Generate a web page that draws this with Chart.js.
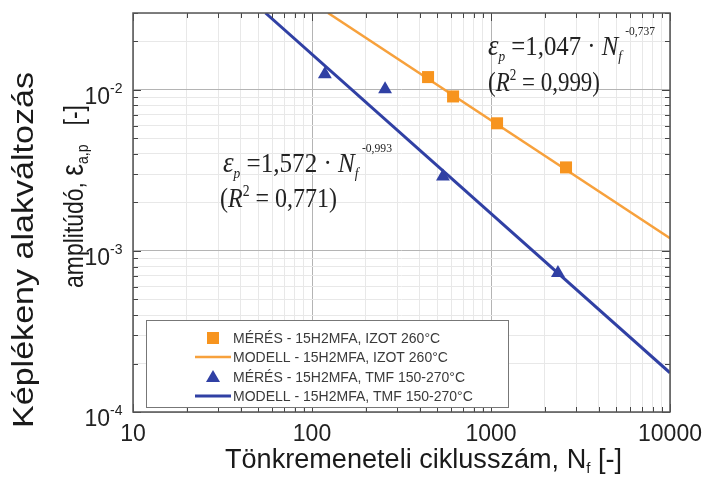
<!DOCTYPE html>
<html><head><meta charset="utf-8">
<script src="https://cdn.jsdelivr.net/npm/chart.js@4/dist/chart.umd.min.js"></script>
<style>html,body{margin:0;padding:0;background:#fff}</style>
</head><body>
<canvas id="c" width="704" height="482" style="display:block;width:704px;height:482px"></canvas>
<script>
// ---- data ----
const izotN = [445, 614, 1081, 2625];
const izotEps = [0.0120, 0.0091, 0.0062, 0.0033];
const tmfN = [118, 256, 539, 2366];
const tmfEps = [0.0125, 0.0101, 0.0029, 0.00073];
const izotModelN = [123, 10000];
const izotModelEps = [0.030, 0.0012];
const tmfModelN = [55, 10000];
const tmfModelEps = [0.030, 0.000175];
const xMajorTicks = [10, 100, 1000, 10000];
const yMajorTicks = [1e-4, 1e-3, 1e-2];
const xTickLabels = ['10', '100', '1000', '10000'];
const yTickExponents = ['-4', '-3', '-2'];
const legendLabels = ['MÉRÉS - 15H2MFA, IZOT 260°C', 'MODELL - 15H2MFA, IZOT 260°C',
  'MÉRÉS - 15H2MFA, TMF 150-270°C', 'MODELL - 15H2MFA, TMF 150-270°C'];

const ORANGE = '#f7941e', ORANGE_L = '#f7a13c', BLUE = '#3040a4';

function decadeTicks(majors, maxV) {
  const out = [];
  majors.forEach(m => { for (let k = 1; k <= 9; k++) { const v = +(m * k).toPrecision(6); if (v <= maxV * 1.0001) out.push({ value: v, major: k === 1 }); } });
  return out;
}
const xTicks = decadeTicks([10, 100, 1000], 10000).concat([{ value: 10000, major: true }]);
const yTicks = decadeTicks([1e-4, 1e-3, 1e-2], 0.03);

function pts(xs, ys) { return xs.map((x, i) => ({ x: x, y: ys[i] })); }

function richText(ctx, segs, x, y, targetW, rotate) {
  let total = 0;
  segs.forEach(s => { ctx.font = s.font; s.w = ctx.measureText(s.t).width; total += s.w; });
  const sc = targetW ? targetW / total : 1;
  ctx.save();
  ctx.translate(x, y);
  if (rotate) ctx.rotate(-Math.PI / 2);
  ctx.scale(sc, 1);
  let cx = 0;
  ctx.textAlign = 'left';
  ctx.textBaseline = 'alphabetic';
  segs.forEach(s => { ctx.font = s.font; ctx.fillText(s.t, cx, s.dy || 0); cx += s.w; });
  ctx.restore();
}

const decor = {
  id: 'decor',
  afterDraw(chart) {
    const ctx = chart.ctx, a = chart.chartArea;
    const xs = chart.scales.x, ys = chart.scales.y;
    ctx.save();
    // inner tick marks
    ctx.strokeStyle = '#444'; ctx.lineWidth = 1;
    ctx.beginPath();
    xTicks.forEach(t => {
      const px = Math.round(xs.getPixelForValue(t.value)) + 0.5;
      const L = t.major ? 8 : 5;
      ctx.moveTo(px, a.bottom); ctx.lineTo(px, a.bottom - L);
      ctx.moveTo(px, a.top); ctx.lineTo(px, a.top + L);
    });
    yTicks.forEach(t => {
      const py = Math.round(ys.getPixelForValue(t.value)) + 0.5;
      const L = t.major ? 8 : 5;
      ctx.moveTo(a.left, py); ctx.lineTo(a.left + L, py);
      ctx.moveTo(a.right, py); ctx.lineTo(a.right - L, py);
    });
    ctx.stroke();
    // frame
    ctx.strokeStyle = '#555'; ctx.lineWidth = 1.5;
    ctx.strokeRect(a.left, a.top, a.right - a.left, a.bottom - a.top);

    const SANS = '"Liberation Sans", Arial, sans-serif';
    // tick labels
    ctx.fillStyle = '#222';
    ctx.font = '23px ' + SANS;
    ctx.textAlign = 'center'; ctx.textBaseline = 'alphabetic';
    xMajorTicks.forEach((v, i) => ctx.fillText(xTickLabels[i], xs.getPixelForValue(v), 441));
    yMajorTicks.forEach((v, i) => {
      const py = ys.getPixelForValue(v);
      ctx.font = '23px ' + SANS;
      ctx.textAlign = 'right';
      ctx.fillText('10', 110, py + 14);
      ctx.font = '14px ' + SANS;
      ctx.textAlign = 'left';
      ctx.fillText(yTickExponents[i], 110, py + 3);
    });

    // axis titles
    ctx.fillStyle = '#1a1a1a';
    richText(ctx, [
      { t: 'Tönkremeneteli ciklusszám, N', font: '27px ' + SANS },
      { t: 'f', font: '15px ' + SANS, dy: 5 },
      { t: ' [-]', font: '27px ' + SANS }
    ], 225, 468, 397, false);
    richText(ctx, [{ t: 'Képlékeny alakváltozás', font: '29px ' + SANS }], 33, 428, 356, true);
    richText(ctx, [
      { t: 'amplitúdó, ', font: '28px ' + SANS },
      { t: 'ε', font: '32px ' + SANS },
      { t: 'a,p', font: '17px ' + SANS, dy: 5 },
      { t: '   [-]', font: '28px ' + SANS }
    ], 83, 288, 183, true);

    // equations
    const SERIF = '"Liberation Serif", "Times New Roman", serif';
    ctx.fillStyle = '#222';
    function eq(x, y, w, coef, expo) {
      richText(ctx, [
        { t: 'ε', font: 'italic 30px ' + SERIF },
        { t: 'p', font: 'italic 15px ' + SERIF, dy: 6 },
        { t: ' =' + coef + ' · ', font: '28px ' + SERIF },
        { t: 'N', font: 'italic 28px ' + SERIF },
        { t: 'f', font: 'italic 15px ' + SERIF, dy: 6 },
        { t: ' ', font: '15px ' + SERIF },
        { t: expo, font: '13px ' + SERIF, dy: -20 }
      ], x, y, w, false);
    }
    function r2(x, y, w, val) {
      richText(ctx, [
        { t: '(', font: '28px ' + SERIF },
        { t: 'R', font: 'italic 28px ' + SERIF },
        { t: '2', font: '16px ' + SERIF, dy: -11 },
        { t: ' = ' + val + ')', font: '28px ' + SERIF }
      ], x, y, w, false);
    }
    eq(223, 172, 169, '1,572', '-0,993');
    r2(220, 207, 117, '0,771');
    eq(488, 55, 167, '1,047', '-0,737');
    r2(488, 91, 112, '0,999');

    // legend
    const lx = 146, ly = 320, lw = 362, lh = 87;
    ctx.fillStyle = '#fff';
    ctx.fillRect(lx, ly, lw, lh);
    ctx.strokeStyle = '#777'; ctx.lineWidth = 1;
    ctx.strokeRect(lx + 0.5, ly + 0.5, lw, lh);
    const rows = [338, 357, 377, 396];
    ctx.font = '14px ' + SANS;
    ctx.textAlign = 'left'; ctx.textBaseline = 'middle';
    rows.forEach((ry, i) => {
      if (i === 0) { ctx.fillStyle = ORANGE; ctx.fillRect(207, ry - 6, 12, 12); }
      if (i === 2) { ctx.fillStyle = BLUE; ctx.beginPath(); ctx.moveTo(213, ry - 7); ctx.lineTo(220, ry + 5); ctx.lineTo(206, ry + 5); ctx.closePath(); ctx.fill(); }
      if (i === 1 || i === 3) {
        ctx.strokeStyle = i === 1 ? ORANGE_L : BLUE; ctx.lineWidth = i === 1 ? 2.5 : 3;
        ctx.beginPath(); ctx.moveTo(195, ry); ctx.lineTo(231, ry); ctx.stroke();
      }
      ctx.fillStyle = '#3a3a3a';
      ctx.fillText(legendLabels[i], 233, ry + 1);
    });
    ctx.restore();
  }
};

new Chart(document.getElementById('c'), {
  type: 'scatter',
  data: {
    datasets: [
      { label: legendLabels[1], data: pts(izotModelN, izotModelEps), showLine: true, borderColor: ORANGE_L, borderWidth: 2.5, pointRadius: 0, order: 3 },
      { label: legendLabels[3], data: pts(tmfModelN, tmfModelEps), showLine: true, borderColor: BLUE, borderWidth: 3, pointRadius: 0, order: 3 },
      { label: legendLabels[0], data: pts(izotN, izotEps), pointStyle: 'rect', pointRadius: 8.5, backgroundColor: ORANGE, borderColor: ORANGE, borderWidth: 0, order: 1 },
      { label: legendLabels[2], data: pts(tmfN, tmfEps), pointStyle: 'triangle', pointRadius: 8, backgroundColor: BLUE, borderColor: BLUE, borderWidth: 0, order: 1 }
    ]
  },
  options: {
    responsive: false,
    animation: false,
    layout: { padding: { left: 0, top: 13, right: 34, bottom: 0 } },
    plugins: { legend: { display: false }, tooltip: { enabled: false } },
    scales: {
      x: {
        type: 'logarithmic', min: 10, max: 10000, position: 'bottom',
        afterBuildTicks: s => { s.ticks = xTicks.map(t => ({ value: t.value, major: t.major })); },
        afterFit: s => { s.height = 70; },
        ticks: { display: false },
        border: { display: false },
        grid: { drawTicks: false, lineWidth: 1, color: c => (c.tick && c.tick.major) ? '#b4b4b4' : '#e8e8e8' }
      },
      y: {
        type: 'logarithmic', min: 1e-4, max: 0.03, position: 'left',
        afterBuildTicks: s => { s.ticks = yTicks.map(t => ({ value: t.value, major: t.major })); },
        afterFit: s => { s.width = 133; },
        ticks: { display: false },
        border: { display: false },
        grid: { drawTicks: false, lineWidth: 1, color: c => (c.tick && c.tick.major) ? '#b4b4b4' : '#e8e8e8' }
      }
    }
  },
  plugins: [decor]
});
</script>
</body></html>
